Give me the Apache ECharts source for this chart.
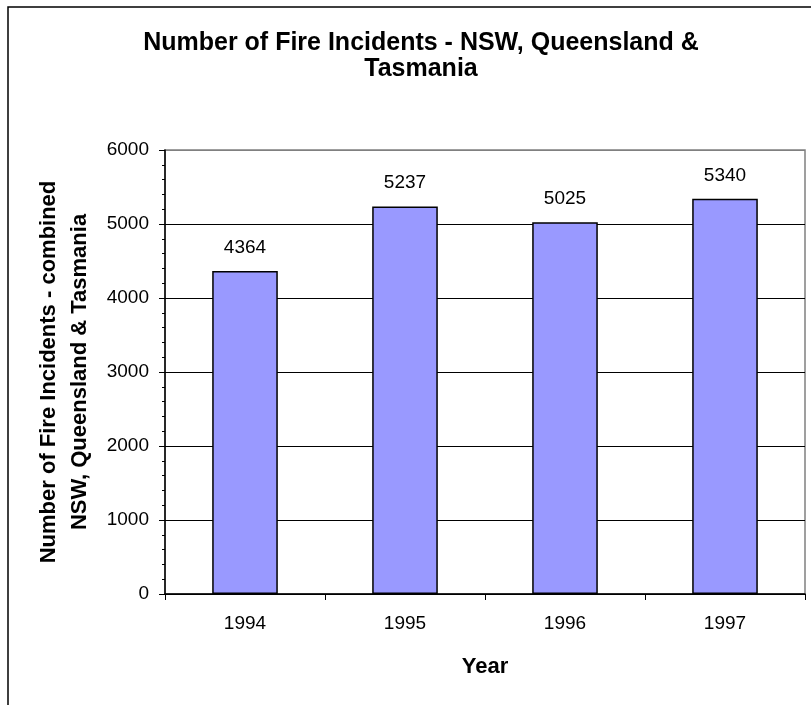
<!DOCTYPE html>
<html>
<head>
<meta charset="utf-8">
<script src="https://cdn.jsdelivr.net/npm/echarts@6/dist/echarts.min.js"></script>
<style>
  html, body { margin: 0; padding: 0; background: #fff; }
  #chart { width: 811px; height: 705px; }
</style>
</head>
<body>
<div id="chart"></div>
<script>
// Fire incident counts, combined across the three states
const years = ['1994', '1995', '1996', '1997'];
const incidents = [4364, 5237, 5025, 5340];

const titleText = 'Number of Fire Incidents - NSW, Queensland &\nTasmania';
const yAxisTitle = 'Number of Fire Incidents - combined\nNSW, Queensland & Tasmania';
const xAxisTitle = 'Year';

const FONT = '"Liberation Sans", Arial, sans-serif';

const chart = echarts.init(document.getElementById('chart'), null, { renderer: 'canvas' });

chart.setOption({
  backgroundColor: '#ffffff',
  animation: false,
  title: {
    text: titleText,
    left: 416,
    textAlign: 'center',
    top: 25,
    textStyle: {
      fontFamily: FONT,
      fontWeight: 'bold',
      fontSize: 25,
      lineHeight: 26,
      color: '#000'
    }
  },
  graphic: [
    {
      // outer chart frame (top and left edges)
      type: 'polyline',
      shape: { points: [[8, 705], [8, 7], [811, 7]] },
      style: { stroke: '#000', lineWidth: 1.5, fill: null },
      silent: true
    }
  ],
  grid: {
    left: 165,
    top: 150,
    right: 6,
    bottom: 111,
    show: true,
    borderColor: '#808080',
    borderWidth: 1.5,
    backgroundColor: 'transparent'
  },
  xAxis: {
    type: 'category',
    data: years,
    name: xAxisTitle,
    nameLocation: 'middle',
    nameGap: 62,
    nameTextStyle: {
      fontFamily: FONT,
      fontWeight: 'bold',
      fontSize: 22,
      color: '#000'
    },
    axisLine: { show: true, lineStyle: { color: '#000', width: 1.5 } },
    axisTick: { show: true, alignWithLabel: false, length: 6, lineStyle: { color: '#000' } },
    axisLabel: {
      fontFamily: FONT,
      fontSize: 19,
      color: '#000',
      margin: 20
    },
    splitLine: { show: false }
  },
  yAxis: {
    type: 'value',
    min: 0,
    max: 6000,
    interval: 1000,
    name: yAxisTitle,
    nameLocation: 'middle',
    nameGap: 67,
    nameRotate: 90,
    nameTextStyle: {
      fontFamily: FONT,
      fontWeight: 'bold',
      fontSize: 22,
      lineHeight: 31,
      color: '#000'
    },
    axisLine: { show: true, lineStyle: { color: '#000', width: 1.5 } },
    axisTick: { show: true, length: 6, lineStyle: { color: '#000' } },
    minorTick: { show: true, splitNumber: 5, length: 3, lineStyle: { color: '#000' } },
    axisLabel: {
      fontFamily: FONT,
      fontSize: 19,
      color: '#000',
      margin: 16,
      formatter: function (v) { return String(v); }
    },
    splitLine: {
      show: true,
      lineStyle: {
        color: ['#000', '#000', '#000', '#000', '#000', '#000', '#808080'],
        width: 1
      }
    }
  },
  series: [
    {
      type: 'bar',
      data: incidents,
      barWidth: '41%',
      itemStyle: {
        color: '#9999ff',
        borderColor: '#000',
        borderWidth: 1.5
      },
      label: {
        show: true,
        position: 'top',
        distance: 14,
        fontFamily: FONT,
        fontSize: 19,
        color: '#000'
      }
    }
  ]
});
</script>
</body>
</html>
